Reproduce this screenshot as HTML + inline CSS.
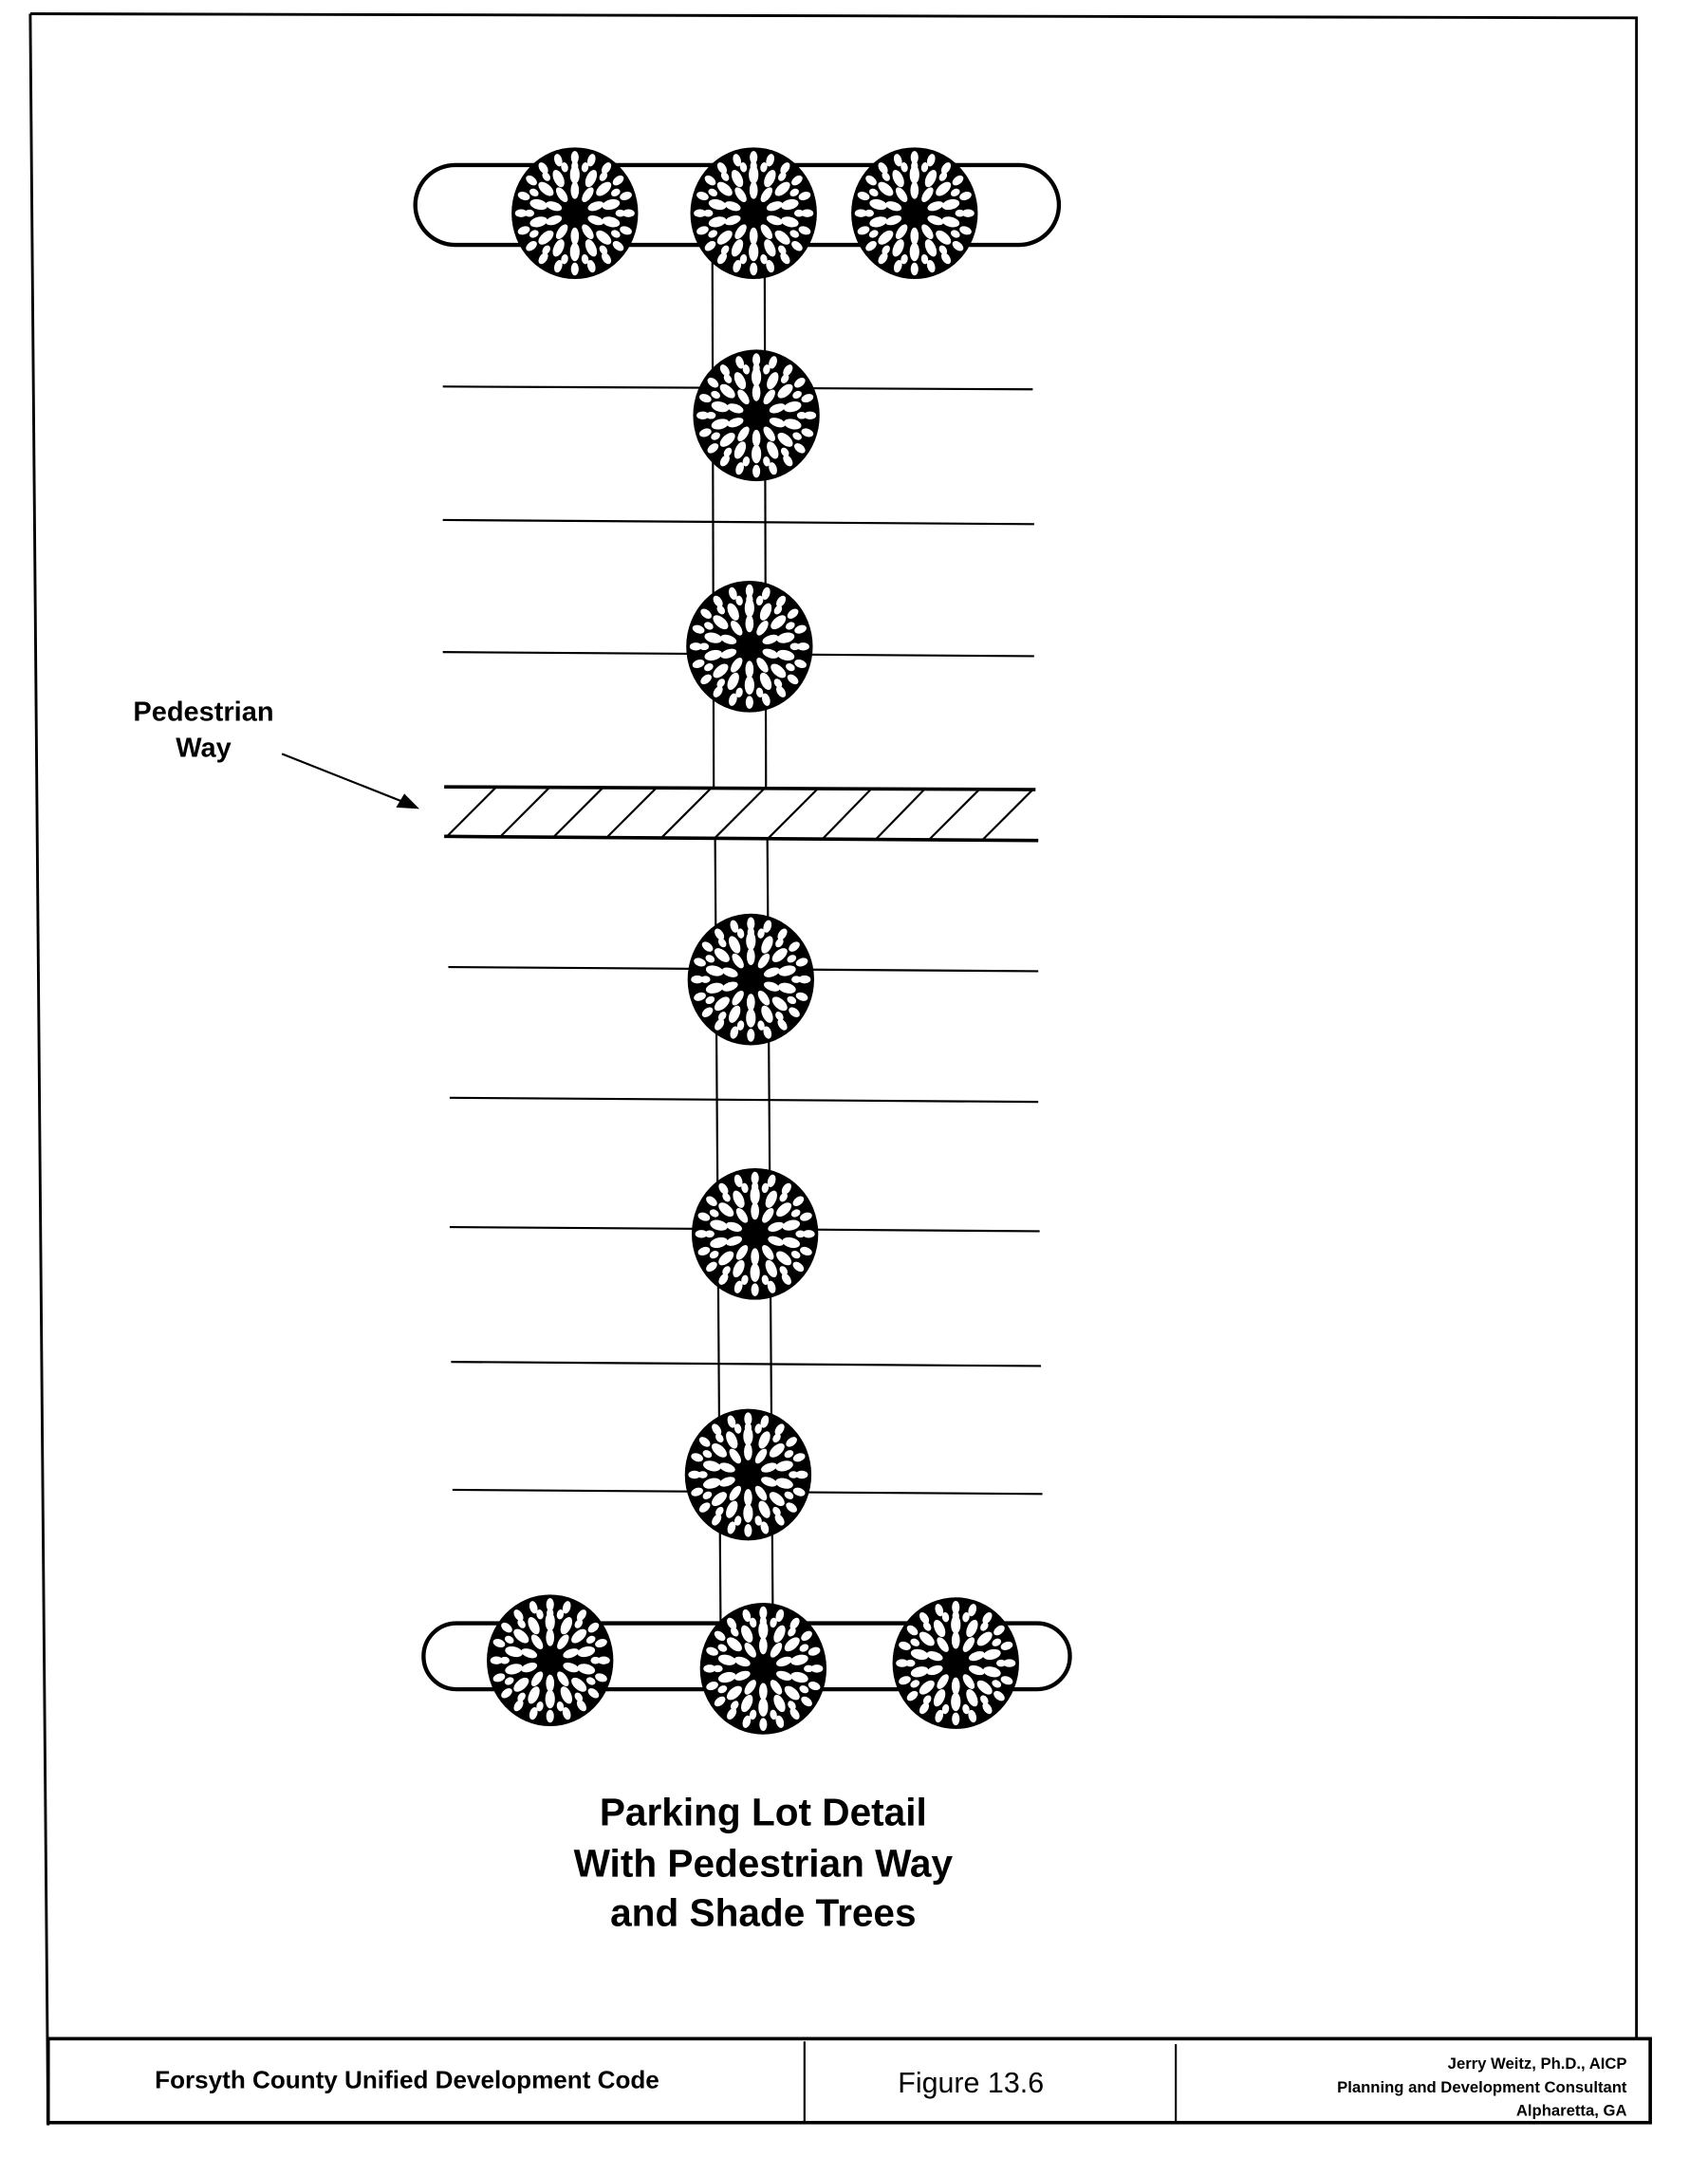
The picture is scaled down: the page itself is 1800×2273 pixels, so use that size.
<!DOCTYPE html>
<html><head><meta charset="utf-8"><style>
html,body{margin:0;padding:0;background:#fff;}
svg{display:block;}
text{font-family:"Liberation Sans",sans-serif;font-weight:bold;fill:#000;}
</style></head><body>
<svg width="1800" height="2273" viewBox="0 0 1242 1568" preserveAspectRatio="none" xmlns="http://www.w3.org/2000/svg">
<defs>
<g id="tree">
<g transform="scale(1,1.04)">
<circle r="46" fill="#000"/>
<g fill="#fff">
<g id="r1"><ellipse cx="0" cy="-16" rx="3" ry="6"/></g>
<use href="#r1" transform="rotate(36)"/><use href="#r1" transform="rotate(72)"/><use href="#r1" transform="rotate(108)"/><use href="#r1" transform="rotate(144)"/><use href="#r1" transform="rotate(180)"/><use href="#r1" transform="rotate(216)"/><use href="#r1" transform="rotate(252)"/><use href="#r1" transform="rotate(288)"/><use href="#r1" transform="rotate(324)"/>
<g id="r2"><ellipse cx="0" cy="-27" rx="3.5" ry="6.5"/></g>
<use href="#r2" transform="rotate(26)"/><use href="#r2" transform="rotate(51)"/><use href="#r2" transform="rotate(77)"/><use href="#r2" transform="rotate(103)"/><use href="#r2" transform="rotate(129)"/><use href="#r2" transform="rotate(154)"/><use href="#r2" transform="rotate(180)"/><use href="#r2" transform="rotate(206)"/><use href="#r2" transform="rotate(231)"/><use href="#r2" transform="rotate(257)"/><use href="#r2" transform="rotate(283)"/><use href="#r2" transform="rotate(309)"/><use href="#r2" transform="rotate(334)"/>
<g id="r4"><ellipse cx="0" cy="-33" rx="2.5" ry="3.5"/></g>
<use href="#r4" transform="rotate(13)"/><use href="#r4" transform="rotate(39)"/><use href="#r4" transform="rotate(64)"/><use href="#r4" transform="rotate(90)"/><use href="#r4" transform="rotate(116)"/><use href="#r4" transform="rotate(141)"/><use href="#r4" transform="rotate(167)"/><use href="#r4" transform="rotate(193)"/><use href="#r4" transform="rotate(219)"/><use href="#r4" transform="rotate(244)"/><use href="#r4" transform="rotate(270)"/><use href="#r4" transform="rotate(296)"/><use href="#r4" transform="rotate(321)"/><use href="#r4" transform="rotate(347)"/>
<g id="r3"><ellipse cx="0" cy="-39" rx="2.8" ry="4.5"/></g>
<use href="#r3" transform="rotate(18)"/><use href="#r3" transform="rotate(36)"/><use href="#r3" transform="rotate(54)"/><use href="#r3" transform="rotate(72)"/><use href="#r3" transform="rotate(90)"/><use href="#r3" transform="rotate(108)"/><use href="#r3" transform="rotate(126)"/><use href="#r3" transform="rotate(144)"/><use href="#r3" transform="rotate(162)"/><use href="#r3" transform="rotate(180)"/><use href="#r3" transform="rotate(198)"/><use href="#r3" transform="rotate(216)"/><use href="#r3" transform="rotate(234)"/><use href="#r3" transform="rotate(252)"/><use href="#r3" transform="rotate(270)"/><use href="#r3" transform="rotate(288)"/><use href="#r3" transform="rotate(306)"/><use href="#r3" transform="rotate(324)"/><use href="#r3" transform="rotate(342)"/>
</g>
<circle r="8" fill="#000"/>
</g>
</g>
</defs>
<g stroke="#000" fill="none">
<polyline points="22,10 1190,13 1190,1482" stroke-width="2"/>
<line x1="22" y1="10" x2="35" y2="1545" stroke-width="2"/>
<rect x="35" y="1482" width="1165" height="61" stroke-width="2.5"/>
<line x1="585" y1="1484" x2="585" y2="1543" stroke-width="1.5"/>
<line x1="855" y1="1486" x2="855" y2="1543" stroke-width="1.5"/>
<rect x="302" y="120" width="468" height="58" rx="29" stroke-width="3"/>
<rect x="308" y="1180" width="470" height="48" rx="24" stroke-width="3"/>
<line x1="518" y1="178" x2="519" y2="572" stroke-width="1.5"/>
<line x1="556" y1="178" x2="557" y2="572" stroke-width="1.5"/>
<line x1="520" y1="610" x2="524" y2="1180" stroke-width="1.5"/>
<line x1="558" y1="610" x2="562" y2="1180" stroke-width="1.5"/>
<g stroke-width="1.5">
<line x1="322" y1="281" x2="751" y2="283"/>
<line x1="322" y1="378" x2="752" y2="381"/>
<line x1="322" y1="474" x2="752" y2="477"/>
<line x1="326" y1="703" x2="755" y2="706"/>
<line x1="327" y1="798" x2="755" y2="801"/>
<line x1="327" y1="892" x2="756" y2="895"/>
<line x1="328" y1="990" x2="757" y2="993"/>
<line x1="329" y1="1083" x2="758" y2="1086"/>
</g>
<line x1="323" y1="572" x2="753" y2="574" stroke-width="2.5"/>
<line x1="323" y1="608" x2="755" y2="611" stroke-width="2.5"/>
<g stroke-width="1.5">
<line x1="325" y1="608" x2="361" y2="572"/>
<line x1="364" y1="608" x2="400" y2="572"/>
<line x1="403" y1="608" x2="439" y2="572"/>
<line x1="442" y1="608" x2="478" y2="572"/>
<line x1="481" y1="609" x2="517" y2="573"/>
<line x1="520" y1="609" x2="556" y2="573"/>
<line x1="559" y1="609" x2="595" y2="573"/>
<line x1="598" y1="610" x2="634" y2="573"/>
<line x1="637" y1="610" x2="673" y2="573"/>
<line x1="676" y1="610" x2="712" y2="574"/>
<line x1="715" y1="610" x2="751" y2="574"/>
</g>
<line x1="205" y1="548" x2="296" y2="584" stroke-width="1.5"/>
</g>
<polygon points="305,588 288,587 294,577" fill="#000"/>
<use href="#tree" x="418" y="155"/>
<use href="#tree" x="548" y="155"/>
<use href="#tree" x="665" y="155"/>
<use href="#tree" x="550" y="302"/>
<use href="#tree" x="545" y="470"/>
<use href="#tree" x="546" y="712"/>
<use href="#tree" x="549" y="897"/>
<use href="#tree" x="544" y="1072"/>
<use href="#tree" x="400" y="1207"/>
<use href="#tree" x="555" y="1213"/>
<use href="#tree" x="695" y="1209"/>
<text x="148" y="524" font-size="20" text-anchor="middle">Pedestrian</text>
<text x="148" y="550" font-size="20" text-anchor="middle">Way</text>
<text x="555" y="1327" font-size="28" text-anchor="middle">Parking Lot Detail</text>
<text x="555" y="1364" font-size="28" text-anchor="middle">With Pedestrian Way</text>
<text x="555" y="1400" font-size="28" text-anchor="middle">and Shade Trees</text>
<text x="296" y="1518" font-size="18" text-anchor="middle">Forsyth County Unified Development Code</text>
<text x="706" y="1521" font-size="21" text-anchor="middle" style="font-weight:normal">Figure 13.6</text>
<text x="1183" y="1504" font-size="11.5" text-anchor="end">Jerry Weitz, Ph.D., AICP</text>
<text x="1183" y="1521" font-size="11.5" text-anchor="end">Planning and Development Consultant</text>
<text x="1183" y="1538" font-size="11.5" text-anchor="end">Alpharetta, GA</text>
</svg>
</body></html>
